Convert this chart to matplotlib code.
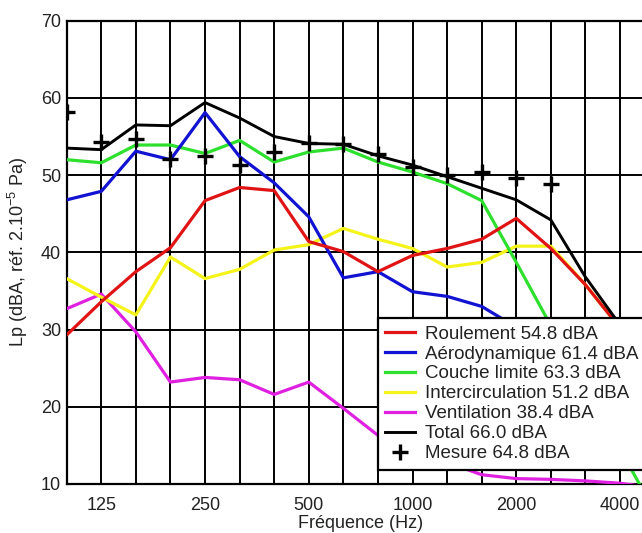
import numpy as np
import matplotlib
matplotlib.use("Agg")
import matplotlib.pyplot as plt

plt.rcParams["font.family"] = ["Liberation Sans", "DejaVu Sans"]
plt.rcParams["mathtext.default"] = "regular"

# third-octave bands (Hz)
bands = ["100", "125", "160", "200", "250", "315", "400", "500", "630",
         "800", "1000", "1250", "1600", "2000", "2500", "3150", "4000", "5000"]
labelled = ["125", "250", "500", "1000", "2000", "4000"]

roulement = [29.3, 33.6, 37.5, 40.6, 46.7, 48.4, 48.0, 41.4, 40.1, 37.5,
             39.6, 40.5, 41.7, 44.4, 40.5, 35.8, 30.2, 24.5]
aero = [46.8, 47.9, 53.1, 52.0, 58.1, 52.4, 49.0, 44.6, 36.7, 37.5,
        34.9, 34.3, 33.0, 30.3, 27.0, 24.0, 20.5, 17.0]
couche = [52.0, 51.6, 53.9, 53.9, 52.8, 54.5, 51.7, 53.0, 53.5, 51.7,
          50.4, 48.9, 46.7, 38.7, 30.5, 22.5, 14.5, 6.5]
intercirc = [36.6, 34.2, 31.9, 39.4, 36.6, 37.8, 40.3, 41.0, 43.1, 41.7,
             40.5, 38.1, 38.7, 40.8, 40.8, 35.8, 30.2, 22.0]
ventil = [32.7, 34.6, 29.7, 23.2, 23.8, 23.5, 21.6, 23.2, 19.8, 16.3,
          14.5, 12.8, 11.2, 10.7, 10.6, 10.4, 10.1, 9.5]
total = [53.5, 53.3, 56.5, 56.4, 59.4, 57.4, 55.0, 54.1, 54.0, 52.5,
         51.3, 49.8, 48.3, 46.8, 44.2, 36.8, 30.6, 25.0]
mesure = [58.2, 54.3, 54.7, 52.1, 52.5, 51.3, 53.0, 54.1, 54.0, 52.8,
          51.1, 50.0, 50.4, 49.6, 48.8, np.nan, np.nan, np.nan]

x = np.arange(len(bands))

fig = plt.figure(figsize=(6.42, 5.33), dpi=100)
ax = fig.add_axes([66.7 / 642, 49 / 533, (654.6 - 66.7) / 642, (484 - 20.7) / 533])

lw = 2.3
# components drawn back to front, legend keeps the original order
h_vent, = ax.plot(x, ventil, color="#e020e0", lw=lw, zorder=3)
h_inter, = ax.plot(x, intercirc, color="#f4f41a", lw=lw, zorder=3)
h_couche, = ax.plot(x, couche, color="#2ee02e", lw=lw, zorder=3)
h_aero, = ax.plot(x, aero, color="#1212d2", lw=lw, zorder=3)
h_roul, = ax.plot(x, roulement, color="#e01414", lw=lw, zorder=3)
h_tot, = ax.plot(x, total, color="black", lw=2.1, zorder=4)
h_mes, = ax.plot(x, mesure, ls="none", marker="+", ms=11, mew=2.4,
                 color="black", zorder=5)

ax.set_xlim(0, len(bands) - 1)
ax.set_ylim(10, 70)
ax.set_xticks(x)
ax.set_xticklabels([b if b in labelled else "" for b in bands])
ax.set_yticks(np.arange(10, 71, 10))
ax.grid(True, color="black", lw=1.4)
ax.tick_params(length=0, labelsize=13, colors="#222222")
ax.tick_params(axis="x", pad=9)
ax.tick_params(axis="y", pad=4)
for s in ax.spines.values():
    s.set_linewidth(1.6)

ax.set_xlabel("Fréquence (Hz)", fontsize=13, color="#222222", labelpad=1)
ax.set_ylabel("Lp (dBA, réf. 2.10$^{-5}$ Pa)", fontsize=13, color="#222222")
ax.yaxis.set_label_coords(-0.062, 0.5)

leg = ax.legend(
    [h_roul, h_aero, h_couche, h_inter, h_vent, h_tot, h_mes],
    ["Roulement 54.8 dBA", "Aérodynamique 61.4 dBA", "Couche limite 63.3 dBA",
     "Intercirculation 51.2 dBA", "Ventilation 38.4 dBA", "Total 66.0 dBA",
     "Mesure 64.8 dBA"],
    loc="upper left", bbox_to_anchor=(378 / 642, 1 - 318 / 533),
    bbox_transform=fig.transFigure, borderaxespad=0, fontsize=13.5,
    fancybox=False, framealpha=1, edgecolor="black", handlelength=1.6,
    handletextpad=0.5, labelspacing=0.15, borderpad=0.4,
)
leg.get_frame().set_linewidth(1.6)
leg.set_zorder(10)
for t in leg.get_texts():
    t.set_color("#222222")

fig.savefig("out.png", dpi=100)
